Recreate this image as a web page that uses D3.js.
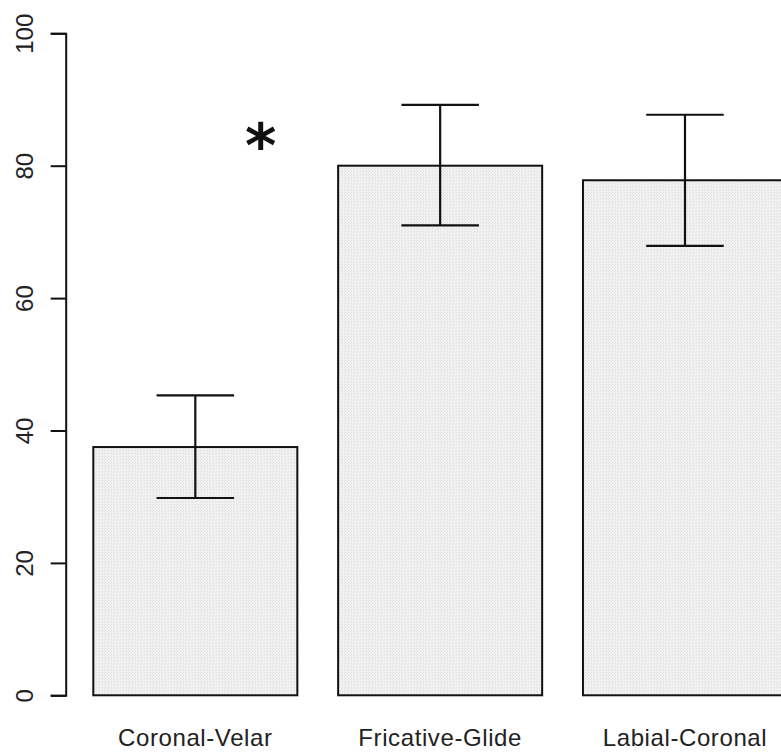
<!DOCTYPE html>
<html>
<head>
<meta charset="utf-8">
<script src="https://cdn.jsdelivr.net/npm/d3@7"></script>
<style>
  html, body { margin: 0; padding: 0; background: #fff; }
  svg { display: block; }
</style>
</head>
<body>
<svg id="chart" width="781" height="754"></svg>
<script>
// Percent correct by cluster type, with error-bar limits
const categories = ["Coronal-Velar", "Fricative-Glide", "Labial-Coronal"];
const means = [37.5, 80.0, 77.8];
const lower = [29.8, 71.0, 67.9];
const upper = [45.3, 89.2, 87.7];
const yTicks = [0, 20, 40, 60, 80, 100];
// significance marker: position in bar units / percent
const marker = { label: "*", x: 1.02, y: 83.0 };

const svg = d3.select("#chart");
const font = "'Liberation Sans', Arial, Helvetica, sans-serif";

// barplot-style layout: bar width 1, gap 0.2
const barW = 1, gap = 0.2;
const x = d3.scaleLinear().domain([0, 3.6]).range([52.5, 787]);
const y = d3.scaleLinear().domain([0, 100]).range([695.3, 33.3]);

const bars = categories.map((c, i) => {
  const x0 = gap + i * (barW + gap);
  return { c, i, x0, x1: x0 + barW, mid: x0 + barW / 2 };
});

// bar fill texture
const defs = svg.append("defs");
const pat = defs.append("pattern")
  .attr("id", "stipple").attr("patternUnits", "userSpaceOnUse")
  .attr("width", 3).attr("height", 3);
pat.append("rect").attr("width", 3).attr("height", 3).attr("fill", "#f1f1f1");
pat.append("rect").attr("width", 1).attr("height", 1).attr("fill", "#dcdcdc");
pat.append("rect").attr("x", 2).attr("y", 1).attr("width", 1).attr("height", 1).attr("fill", "#e4e4e4");

// bars
svg.append("g").selectAll("rect")
  .data(bars).join("rect")
  .attr("x", d => x(d.x0))
  .attr("y", d => y(means[d.i]))
  .attr("width", d => x(d.x1) - x(d.x0))
  .attr("height", d => y(0) - y(means[d.i]))
  .attr("fill", "url(#stipple)")
  .attr("stroke", "#111")
  .attr("stroke-width", 2);

// error bars
const capHalf = 0.19;
const eb = svg.append("g").attr("stroke", "#111").attr("stroke-width", 2.2).attr("fill", "none");
bars.forEach(d => {
  eb.append("line")
    .attr("x1", x(d.mid)).attr("x2", x(d.mid))
    .attr("y1", y(upper[d.i])).attr("y2", y(lower[d.i]));
  [upper[d.i], lower[d.i]].forEach(v => {
    eb.append("line")
      .attr("x1", x(d.mid - capHalf)).attr("x2", x(d.mid + capHalf))
      .attr("y1", y(v)).attr("y2", y(v));
  });
});

// y axis
const yAxis = svg.append("g")
  .attr("transform", `translate(${x(0) + 13.2},0)`)
  .call(d3.axisLeft(y).tickValues(yTicks).tickSize(15).tickPadding(0).tickFormat(d3.format("d")));
yAxis.select(".domain").attr("stroke", "#111").attr("stroke-width", 2);
yAxis.selectAll(".tick line").attr("stroke", "#111").attr("stroke-width", 2);
yAxis.selectAll(".tick text")
  .attr("font-family", font)
  .attr("font-size", 24)
  .attr("fill", "#222")
  .attr("text-anchor", "middle")
  .attr("dy", 0)
  .attr("x", 0).attr("y", 0)
  .attr("transform", "translate(-32.5,0) rotate(-90)");

// category labels
svg.append("g").selectAll("text")
  .data(bars).join("text")
  .attr("x", d => x(d.mid))
  .attr("y", 746)
  .attr("text-anchor", "middle")
  .attr("font-family", font)
  .attr("font-size", 24)
  .attr("letter-spacing", 0.6)
  .attr("fill", "#222")
  .text(d => d.c);

// significance marker
svg.append("text")
  .attr("x", x(marker.x))
  .attr("y", y(marker.y))
  .attr("text-anchor", "middle")
  .attr("dominant-baseline", "central")
  .attr("font-family", "'DejaVu Sans', sans-serif")
  .attr("font-weight", "bold")
  .attr("font-size", 60)
  .attr("fill", "#111")
  .text(marker.label);
</script>
</body>
</html>
